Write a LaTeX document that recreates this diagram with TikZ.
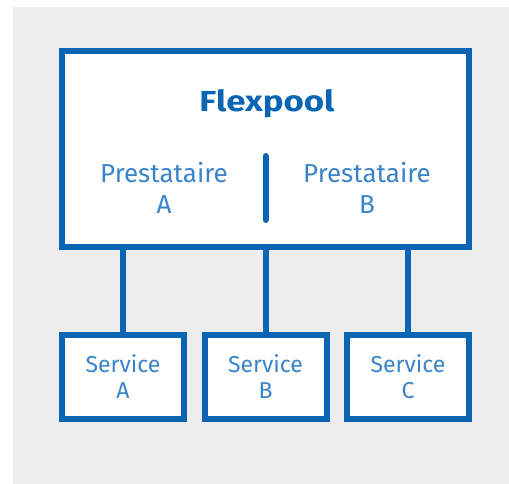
\documentclass[tikz,border=0pt]{standalone}
\usepackage{fontspec}
\setmainfont{Fira Sans}
\definecolor{fpblue}{HTML}{0A66B5}
\definecolor{fptext}{HTML}{3A84C9}
\definecolor{fpgray}{HTML}{EDEDED}
\begin{document}
\begin{tikzpicture}[x=1pt,y=-1pt,
  frame/.style={draw=fpblue,line width=6pt,fill=white,rectangle,inner sep=0pt},
  svcbox/.style={frame,minimum width=122pt,minimum height=84pt,align=center,
     text=fptext,font=\fontsize{23}{26}\selectfont},
  prest/.style={align=center,text=fptext,font=\fontsize{26}{31}\selectfont,inner sep=0pt},
  link/.style={draw=fpblue,line width=6pt}]
\useasboundingbox (0,0) rectangle (509,484);
\fill[fpgray] (13,7) rectangle (509,484);
\node[frame,minimum width=407pt,minimum height=196pt] (main) at (265.5,149) {};
\node[anchor=base,text=fpblue,font=\fontsize{29}{34}\selectfont\bfseries,inner sep=0pt] (title) at (267,112) {\scalebox{1.2}[1]{Flexpool}};
\node[prest] (pa) at (164,188) {Prestataire\\A};
\node[prest] (pb) at (367,188) {Prestataire\\B};
\coordinate (dtop) at (265.5,156);
\coordinate (dbot) at (265.5,220);
\draw[link,line cap=round] (dtop) -- (dbot);
\node[svcbox] (sa) at (123,377) {Service\\A};
\node[svcbox] (sb) at (265.5,377) {Service\\B};
\node[svcbox] (sc) at (408,377) {Service\\C};
\foreach \s in {sa,sb,sc}{
  \draw[link] (\s.north) -- (\s.north |- main.south);
}
\end{tikzpicture}
\end{document}
